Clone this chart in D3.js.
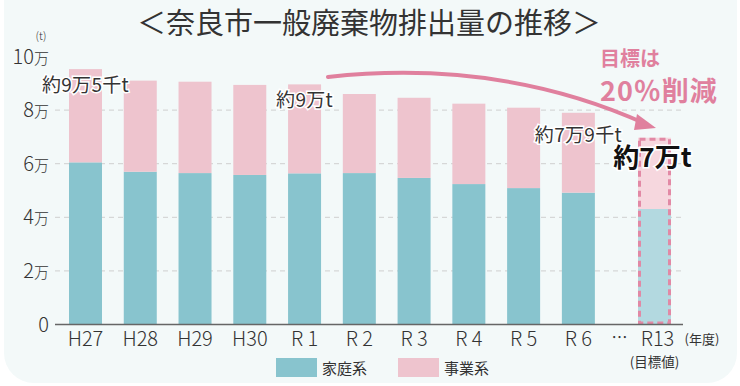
<!DOCTYPE html>
<html lang="ja">
<head>
<meta charset="utf-8">
<script src="https://cdn.jsdelivr.net/npm/d3@7"></script>
<style>
  html, body { margin: 0; padding: 0; background: #fff; }
  svg { display: block; font-family: "Noto Sans CJK JP", "Noto Sans", sans-serif; }
</style>
</head>
<body>
<div id="vis"></div>
<script>
// 年度ラベル
var years = ["H27", "H28", "H29", "H30", "R 1", "R 2", "R 3", "R 4", "R 5", "R 6"];
// 家庭系 / 事業系 (t)
var household = [60500, 57000, 56500, 55800, 56400, 56500, 54700, 52400, 50900, 49200];
var business  = [34800, 34000, 34100, 33600, 33200, 29500, 29900, 30000, 30000, 29800];
// 目標値 R13
var targetYear = "R13";
var targetHousehold = 43100;
var targetBusiness = 26600;
// y軸目盛
var yTicks = [0, 20000, 40000, 60000, 80000, 100000];
var yTickLabels = ["0", "2", "4", "6", "8", "10"];
// 注記
var notes = [
  { index: 0, text: "約9万5千t" },
  { index: 4, text: "約9万t" },
  { index: 9, text: "約7万9千t" }
];

var width = 740, height = 386;
var colHouse = "#88c4ce", colBiz = "#eec4ce";
var colHouseT = "#b3d9e0", colBizT = "#f6d7de";
var pink = "#e0809e";

var svg = d3.select("#vis").append("svg")
  .attr("width", width)
  .attr("height", height);

// card background
svg.append("rect")
  .attr("x", 4).attr("y", -30)
  .attr("width", 733).attr("height", 413)
  .attr("rx", 30)
  .attr("fill", "#f3f9f9");

// scales
var gapSlots = 1.39; // "…" の分だけ離す
var targetSlot = years.length - 1 + gapSlots;
var x = d3.scaleLinear().domain([0, targetSlot]).range([85.5, 654.5]);
var y = d3.scaleLinear().domain([0, 100000]).range([324.5, 56.5]);
var barW = 33;

// gridlines
svg.append("g")
  .selectAll("line")
  .data(yTicks.filter(function (d) { return d > 0 && d < 100000; }))
  .join("line")
  .attr("x1", 55).attr("x2", 683)
  .attr("y1", function (d) { return y(d); })
  .attr("y2", function (d) { return y(d); })
  .attr("stroke", "#cfcfcf")
  .attr("stroke-width", 1)
  .attr("stroke-dasharray", "5,4");

// y tick labels
var yl = svg.append("g").attr("fill", "#333").style("font-weight", 300);
yTicks.forEach(function (t, i) {
  var txt = yl.append("text")
    .attr("x", 49)
    .attr("y", y(t) + 7)
    .attr("text-anchor", "end")
    .style("font-size", "20px");
  txt.append("tspan").text(yTickLabels[i]);
  if (t > 0) txt.append("tspan").style("font-size", "15px").text("万");
});
yl.append("text")
  .attr("x", 41).attr("y", 40)
  .attr("text-anchor", "middle")
  .style("font-size", "11px")
  .text("(t)");

// bars
var data = years.map(function (d, i) {
  return { year: d, i: i, house: household[i], biz: business[i] };
});

var bars = svg.append("g");
bars.selectAll(".house")
  .data(data)
  .join("rect")
  .attr("class", "house")
  .attr("x", function (d) { return x(d.i) - barW / 2; })
  .attr("width", barW)
  .attr("y", function (d) { return y(d.house); })
  .attr("height", function (d) { return y(0) - y(d.house); })
  .attr("fill", colHouse);

bars.selectAll(".biz")
  .data(data)
  .join("rect")
  .attr("class", "biz")
  .attr("x", function (d) { return x(d.i) - barW / 2; })
  .attr("width", barW)
  .attr("y", function (d) { return y(d.house + d.biz); })
  .attr("height", function (d) { return y(d.house) - y(d.house + d.biz); })
  .attr("fill", colBiz);

// target bar
var tx = x(targetSlot) - barW / 2;
bars.append("rect")
  .attr("x", tx).attr("width", barW)
  .attr("y", y(targetHousehold))
  .attr("height", y(0) - y(targetHousehold))
  .attr("fill", colHouseT);
bars.append("rect")
  .attr("x", tx).attr("width", barW)
  .attr("y", y(targetHousehold + targetBusiness))
  .attr("height", y(targetHousehold) - y(targetHousehold + targetBusiness))
  .attr("fill", colBizT);
bars.append("rect")
  .attr("x", tx + 1.5).attr("width", barW - 3)
  .attr("y", y(targetHousehold + targetBusiness) + 1.5)
  .attr("height", y(0) - y(targetHousehold + targetBusiness) - 3)
  .attr("fill", "none")
  .attr("stroke", "#e289a5")
  .attr("stroke-width", 3)
  .attr("stroke-dasharray", "6,4");

// baseline
svg.append("line")
  .attr("x1", 55).attr("x2", 683)
  .attr("y1", y(0)).attr("y2", y(0))
  .attr("stroke", "#666")
  .attr("stroke-width", 1.5);

// x labels
var xl = svg.append("g").attr("fill", "#333").style("font-size", "20px").style("font-weight", 300);
xl.selectAll("text")
  .data(data)
  .join("text")
  .attr("x", function (d) { return x(d.i); })
  .attr("y", 346)
  .attr("text-anchor", "middle")
  .text(function (d) { return d.year; });
xl.append("text")
  .attr("x", x(years.length - 1 + gapSlots * 0.5) + 3)
  .attr("y", 343)
  .attr("text-anchor", "middle")
  .style("font-size", "16px")
  .style("font-weight", 400)
  .text("…");
xl.append("text")
  .attr("x", x(targetSlot) + 3)
  .attr("y", 346)
  .attr("text-anchor", "middle")
  .text(targetYear);
xl.append("text")
  .attr("x", 702).attr("y", 344)
  .attr("text-anchor", "middle")
  .style("font-size", "13px")
  .style("font-weight", 400)
  .text("(年度)");
xl.append("text")
  .attr("x", x(targetSlot)).attr("y", 367)
  .attr("text-anchor", "middle")
  .style("font-size", "13.5px")
  .style("font-weight", 400)
  .text("(目標値)");

// arrow
svg.append("path")
  .attr("d", "M328,77 C430,66 540,76 646,124")
  .attr("fill", "none")
  .attr("stroke", pink)
  .attr("stroke-width", 4)
  .attr("stroke-linecap", "round");
svg.append("path")
  .attr("d", "M637,114 L656,128 L634,130 Z")
  .attr("fill", pink);

// notes on bars
svg.append("g")
  .selectAll("text")
  .data(notes)
  .join("text")
  .attr("x", function (d) { return x(d.index); })
  .attr("y", function (d) {
    var top = y(household[d.index] + business[d.index]);
    return top + (d.index === 9 ? 29 : 23);
  })
  .attr("text-anchor", "middle")
  .attr("fill", "#333")
  .attr("stroke", "#fff")
  .attr("stroke-width", 3)
  .attr("paint-order", "stroke")
  .style("font-size", "19px")
  .style("letter-spacing", "0.3px")
  .text(function (d) { return d.text; });

svg.append("text")
  .attr("x", x(targetSlot) - 2)
  .attr("y", y(targetHousehold + targetBusiness) + 29)
  .attr("text-anchor", "middle")
  .attr("fill", "#111")
  .attr("stroke", "#fff")
  .attr("stroke-width", 3)
  .attr("paint-order", "stroke")
  .style("font-size", "26px")
  .style("font-weight", "bold")
  .text("約7万t");

// target text
svg.append("text")
  .attr("x", 600).attr("y", 66)
  .attr("fill", pink)
  .style("font-size", "20px")
  .style("font-weight", "bold")
  .text("目標は");
svg.append("text")
  .attr("x", 600).attr("y", 101)
  .attr("fill", pink)
  .style("font-size", "27px")
  .style("font-weight", "bold")
  .style("letter-spacing", "1px")
  .text("20％削減");

// title
svg.append("text")
  .attr("x", 369).attr("y", 34)
  .attr("text-anchor", "middle")
  .attr("fill", "#333")
  .style("font-size", "29px")
  .style("font-weight", 400)
  .text("＜奈良市一般廃棄物排出量の推移＞");

// legend
var legend = [
  { label: "家庭系", color: colHouse, x: 276 },
  { label: "事業系", color: colBiz, x: 398 }
];
var lg = svg.append("g");
legend.forEach(function (l) {
  lg.append("rect")
    .attr("x", l.x).attr("y", 358)
    .attr("width", 41).attr("height", 19)
    .attr("fill", l.color);
  lg.append("text")
    .attr("x", l.x + 46).attr("y", 374)
    .attr("fill", "#333")
    .style("font-size", "15px")
    .text(l.label);
});
</script>
</body>
</html>
